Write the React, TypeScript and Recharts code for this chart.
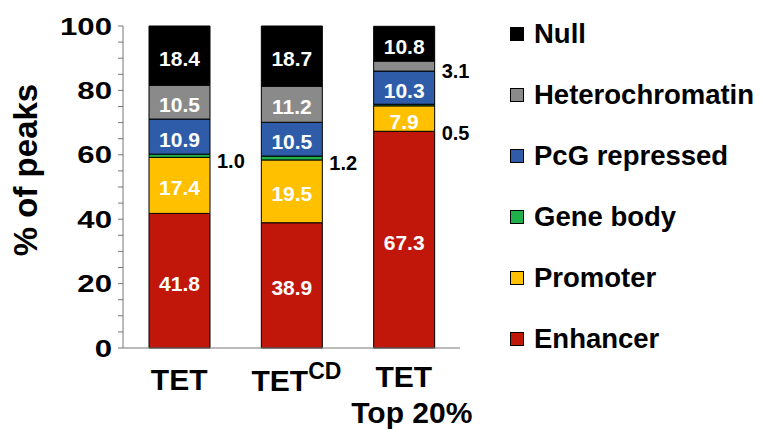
import React from 'react';
import { BarChart, Bar, XAxis, YAxis, LabelList } from 'recharts';

// categories along the x axis
const categories = ['TET', 'TETCD', 'TET Top 20%'];

// stacked segments, bottom to top (% of peaks)
const enhancer = [41.8, 38.9, 67.3];
const promoter = [17.4, 19.5, 7.9];
const geneBody = [1.0, 1.2, 0.5];
const pcgRepressed = [10.9, 10.5, 10.3];
const heterochromatin = [10.5, 11.2, 3.1];
const nullState = [18.4, 18.7, 10.8];

const yTicks = [0, 5, 10, 15, 20, 25, 30, 35, 40, 45, 50, 55, 60, 65, 70, 75, 80, 85, 90, 95, 100];

const series = [
  { key: 'Enhancer', values: enhancer, color: '#C1170B' },
  { key: 'Promoter', values: promoter, color: '#FFC000' },
  { key: 'Gene body', values: geneBody, color: '#1FAF4B' },
  { key: 'PcG repressed', values: pcgRepressed, color: '#2F5CA9' },
  { key: 'Heterochromatin', values: heterochromatin, color: '#8A8A8A' },
  { key: 'Null', values: nullState, color: '#000000' },
];

const rows = categories.map((name, i) => {
  const row: Record<string, any> = { name };
  series.forEach(s => { row[s.key] = s.values[i]; });
  return row;
});

const FONT = '"Liberation Sans", Arial, sans-serif';

const SegmentLabel = (props: any) => {
  const { x, y, width, height, value, index, dataKey } = props;
  if (value == null) return null;
  const text = Number(value).toFixed(1);
  if (height < 12) {
    // thin segments get their value to the right of the bar
    let dy = 5;
    if (dataKey === 'Gene body' && index === 2) dy = 28;
    return (
      <text x={x + width + 7} y={y + height / 2 + dy + 7} fill="#000" fontSize={20} fontWeight="bold" fontFamily={FONT}>
        {text}
      </text>
    );
  }
  return (
    <text x={x + width / 2} y={y + height / 2 + 10} fill="#fff" fontSize={21} fontWeight="bold" fontFamily={FONT} textAnchor="middle">
      {text}
    </text>
  );
};

const YTick = (props: any) => {
  const { x, y, payload } = props;
  if (payload.value % 20 !== 0) return null;
  return (
    <text transform={`translate(${x},${y + 8.5}) scale(1.3,1)`} textAnchor="end" fontSize={24} fontWeight="bold" fontFamily={FONT} fill="#000">
      {payload.value}
    </text>
  );
};

const XTick = (props: any) => {
  const { x, payload } = props;
  const v = payload.value;
  const common = { fontSize: 30, fontWeight: 'bold' as const, fontFamily: FONT, fill: '#000' };
  if (v === 'TETCD') {
    return (
      <text x={x - 40} y={391} {...common}>
        TET<tspan fontSize={23} dy={-12}>CD</tspan>
      </text>
    );
  }
  if (v === 'TET Top 20%') {
    return (
      <g>
        <text x={x} y={387} textAnchor="middle" {...common}>TET</text>
        <text x={x + 8} y={423} textAnchor="middle" {...common}>Top 20%</text>
      </g>
    );
  }
  return <text x={x} y={390} textAnchor="middle" {...common}>{v}</text>;
};

const YLabel = (props: any) => {
  const vb = props.viewBox || { x: 0, y: 26, width: 123, height: 322 };
  const cx = vb.x + 37;
  const cy = vb.y + vb.height / 2 - 17;
  return (
    <text x={cx} y={cy} transform={`rotate(-90, ${cx}, ${cy})`} textAnchor="middle" fontSize={33} fontWeight="bold" fontFamily={FONT} fill="#000">
      % of peaks
    </text>
  );
};

const LegendBox = () => {
  const items = [...series].reverse();
  return (
    <div style={{ position: 'absolute', left: 510, top: 3, fontFamily: FONT, fontWeight: 'bold', fontSize: 27.5, color: '#000' }}>
      {items.map(s => (
        <div key={s.key} style={{ display: 'flex', alignItems: 'center', height: 61, whiteSpace: 'nowrap' }}>
          <span style={{ width: 12, height: 12, background: s.color, border: '1px solid #000', marginRight: 10, display: 'inline-block' }} />
          <span>{s.key}</span>
        </div>
      ))}
    </div>
  );
};

export default function App() {
  return (
    <div style={{ position: 'absolute', left: 0, top: 0, width: 761, height: 430, background: '#fff' }}>
      <BarChart width={761} height={430} data={rows} margin={{ top: 26, right: 301, bottom: 52, left: 0 }} barSize={61}>
        <XAxis dataKey="name" height={30} axisLine={{ stroke: '#777' }} tickLine={false} tick={<XTick />} interval={0} />
        <YAxis
          width={123}
          domain={[0, 100]}
          ticks={yTicks}
          interval={0}
          tickSize={5}
          tickMargin={6}
          axisLine={{ stroke: '#777' }}
          tickLine={{ stroke: '#777' }}
          tick={<YTick />}
          label={<YLabel />}
        />
        {series.map(s => (
          <Bar key={s.key} dataKey={s.key} stackId="a" fill={s.color} stroke="#000" strokeWidth={1} isAnimationActive={false}>
            <LabelList dataKey={s.key} content={(p: any) => <SegmentLabel {...p} dataKey={s.key} />} />
          </Bar>
        ))}
      </BarChart>
      <LegendBox />
    </div>
  );
}
